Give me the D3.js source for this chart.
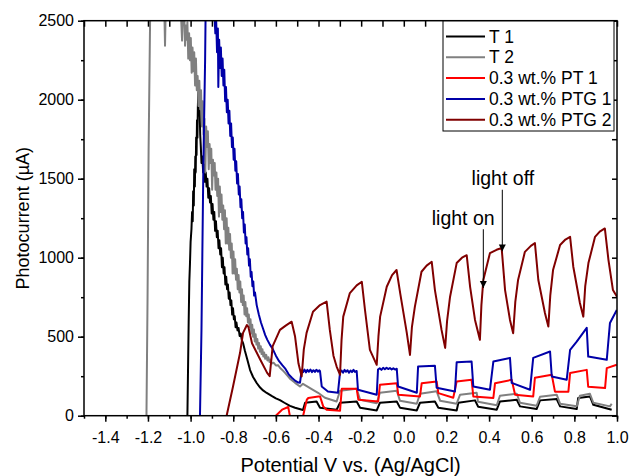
<!DOCTYPE html>
<meta charset="utf-8">
<body style="margin:0;background:#fff">
<script src="https://cdn.jsdelivr.net/npm/d3@7"></script>
<script>

// ---- data (potential V, photocurrent uA) ----
var t1 = [
  [-1.015,0],[-1.012,300],[-1.009,600],[-1.006,850],[-1.003,960],[-1.000,1100],[-0.996,1180],
  [-0.993,1290],[-0.990,1230],[-0.988,1420],[-0.985,1330],[-0.983,1560],[-0.980,1450],[-0.978,1640],
  [-0.976,1540],[-0.974,1760],[-0.972,1650],[-0.970,1870],[-0.968,1760],[-0.966,1950],[-0.964,2045],
  [-0.961,1900],[-0.958,1960],[-0.955,1780],[-0.952,1700],[-0.949,1600],[-0.945,1640],[-0.941,1540],
  [-0.937,1590],[-0.933,1480],[-0.929,1540],[-0.925,1450],[-0.921,1500],[-0.917,1380],[-0.913,1440],
  [-0.909,1350],[-0.905,1390],[-0.901,1280],[-0.897,1340],[-0.893,1240],[-0.889,1290],[-0.885,1170],
  [-0.881,1230],[-0.877,1130],[-0.873,1170],[-0.869,1060],[-0.865,1110],[-0.861,1020],[-0.857,1060],
  [-0.853,940],[-0.849,1000],[-0.845,900],[-0.841,940],[-0.837,830],[-0.833,880],[-0.829,800],
  [-0.825,830],[-0.821,740],[-0.817,780],[-0.813,700],[-0.809,730],[-0.805,640],[-0.801,680],
  [-0.797,610],[-0.793,630],[-0.789,560],[-0.785,590],[-0.780,540],[-0.775,555],[-0.770,505],
  [-0.765,520],[-0.760,480],[-0.754,460],[-0.745,410],[-0.735,360],[-0.721,289],[-0.707,245],
  [-0.690,207],[-0.674,178],[-0.660,160],[-0.643,144],[-0.620,125],[-0.600,110],[-0.581,99],
  [-0.560,82],[-0.534,62],[-0.510,50],[-0.473,36],
  [-0.463,82],[-0.409,90],[-0.393,51],[-0.315,38],[-0.299,82],[-0.221,90],[-0.205,51],[-0.127,33],
  [-0.112,82],[-0.033,90],[-0.018,51],[0.061,33],[0.076,82],[0.146,90],[0.162,51],[0.248,33],
  [0.256,82],[0.334,97],[0.349,57],[0.436,38],[0.451,90],[0.530,101],[0.545,59],[0.623,42],
  [0.639,97],[0.717,105],[0.733,59],[0.811,42],[0.818,112],[0.873,122],[0.889,69],[0.975,38]
];

var t2 = [
  [-1.207,0],[-1.202,732],[-1.197,1679],[-1.190,2500],[-1.186,2700],[-1.125,2700],[-1.120,2342],
  [-1.115,2700],[-1.050,2700],[-1.040,2374],[-1.033,2700],[-1.026,2342],
  [-1.022,2470],[-1.019,2380],[-1.015,2490],[-1.011,2260],[-1.007,2420],[-1.003,2250],[-0.999,2390],
  [-0.995,2170],[-0.991,2330],[-0.987,2180],[-0.983,2300],[-0.979,2090],[-0.975,2260],[-0.971,2060],
  [-0.967,2150],[-0.963,1960],[-0.959,2120],[-0.955,1940],[-0.951,2060],[-0.947,1830],[-0.943,1990],
  [-0.939,1780],[-0.935,1880],[-0.931,1540],[-0.927,1830],[-0.923,1700],[-0.919,1800],[-0.915,1560],
  [-0.911,1720],[-0.907,1600],[-0.903,1690],[-0.899,1430],[-0.895,1620],[-0.891,1520],[-0.887,1600],
  [-0.883,1430],[-0.879,1540],[-0.875,1390],[-0.871,1500],[-0.867,1260],[-0.863,1450],[-0.859,1290],
  [-0.855,1400],[-0.851,1240],[-0.847,1330],[-0.843,1180],[-0.839,1300],[-0.835,1090],[-0.831,1250],
  [-0.827,1090],[-0.823,1190],[-0.819,1050],[-0.815,1150],[-0.811,1000],[-0.807,1090],[-0.803,900],
  [-0.799,1040],[-0.795,900],[-0.791,990],[-0.787,860],[-0.783,930],[-0.779,800],[-0.775,890],
  [-0.771,780],[-0.767,850],[-0.763,720],[-0.759,800],[-0.755,700],[-0.751,760],[-0.747,640],
  [-0.743,720],[-0.739,630],[-0.735,680],[-0.731,590],[-0.727,640],[-0.723,560],[-0.719,610],
  [-0.715,520],[-0.711,575],[-0.707,500],[-0.703,545],[-0.699,470],[-0.695,515],[-0.691,450],
  [-0.687,485],[-0.683,425],[-0.679,460],[-0.675,405],[-0.671,440],[-0.667,390],[-0.663,420],
  [-0.659,375],[-0.655,400],[-0.650,360],[-0.645,385],[-0.640,350],[-0.635,370],[-0.630,340],
  [-0.625,355],[-0.620,330],[-0.610,335],[-0.600,318],[-0.590,320],[-0.580,302],[-0.570,290],
  [-0.557,271],[-0.534,234],[-0.510,208],[-0.487,185],
  [-0.473,202],[-0.426,164],[-0.402,145],[-0.370,114],[-0.315,90],[-0.299,158],[-0.221,170],
  [-0.205,101],[-0.127,79],[-0.112,145],[-0.033,158],[-0.018,95],[0.061,76],[0.076,139],[0.154,155],
  [0.170,95],[0.248,76],[0.264,133],[0.342,145],[0.348,88],[0.436,66],[0.451,126],[0.530,139],
  [0.545,82],[0.623,63],[0.639,120],[0.717,133],[0.733,76],[0.811,60],[0.826,126],[0.873,139],
  [0.889,82],[0.967,59],[0.975,76]
];

var pt1 = [
  [-0.604,-5],[-0.571,38],[-0.542,55],[-0.534,-5],[-0.506,-60],[-0.473,-5],[-0.455,101],[-0.448,112],
  [-0.401,122],[-0.393,122],[-0.378,59],[-0.362,38],[-0.299,32],[-0.291,170],[-0.221,170],[-0.213,101],
  [-0.120,90],[-0.112,196],[-0.033,206],[-0.026,133],[0.076,122],[0.084,206],[0.154,217],[0.162,143],
  [0.232,114],[0.248,217],[0.318,227],[0.326,122],[0.420,112],[0.428,206],[0.506,227],[0.522,133],
  [0.607,122],[0.615,240],[0.694,259],[0.709,152],[0.772,152],[0.780,270],[0.858,290],[0.865,183],
  [0.944,175],[0.952,301],[0.999,322]
];

var ptg1 = [
  [-0.956,0],[-0.949,543],[-0.940,1597],[-0.932,2247],[-0.928,2750],[-0.895,2750],
  [-0.888,2540],[-0.884,2420],[-0.880,2500],[-0.876,2300],[-0.872,2450],[-0.870,2080],[-0.866,2380],
  [-0.862,2200],[-0.858,2330],[-0.854,2150],[-0.850,2260],[-0.846,2090],[-0.842,2190],[-0.838,1990],
  [-0.834,2080],[-0.830,1920],[-0.826,2000],[-0.822,1850],[-0.818,1930],[-0.814,1770],[-0.810,1850],
  [-0.806,1700],[-0.802,1760],[-0.798,1620],[-0.794,1690],[-0.790,1550],[-0.786,1610],[-0.782,1470],
  [-0.778,1530],[-0.774,1400],[-0.770,1450],[-0.766,1320],[-0.762,1370],[-0.758,1250],[-0.754,1290],
  [-0.750,1160],[-0.746,1210],[-0.742,1090],[-0.738,1130],[-0.734,1020],[-0.730,1060],[-0.726,950],
  [-0.722,990],[-0.718,880],[-0.714,910],[-0.710,820],[-0.706,850],[-0.702,760],[-0.698,780],
  [-0.690,700],[-0.680,640],[-0.670,590],[-0.660,550],[-0.650,510],[-0.640,480],[-0.628,450],
  [-0.614,420],[-0.600,380],[-0.585,345],[-0.570,320],[-0.557,300],[-0.540,262],[-0.525,240],
  [-0.510,222],[-0.495,210],[-0.487,208],
  [-0.479,286],[-0.472,276],[-0.466,292],[-0.459,274],[-0.452,290],[-0.445,278],[-0.438,292],
  [-0.431,276],[-0.424,288],[-0.417,277],[-0.410,291],[-0.403,279],[-0.396,287],[-0.393,282],
  [-0.385,185],[-0.356,153],[-0.309,145],
  [-0.299,274],[-0.292,286],[-0.285,272],[-0.278,290],[-0.271,278],[-0.264,288],[-0.257,272],
  [-0.250,286],[-0.243,276],[-0.236,290],[-0.229,277],[-0.221,283],
  [-0.215,164],[-0.127,133],
  [-0.121,292],[-0.113,300],[-0.105,290],[-0.097,303],[-0.089,294],[-0.081,304],[-0.073,295],
  [-0.065,302],[-0.057,293],[-0.049,300],[-0.041,292],[-0.033,297],
  [-0.027,185],[0.061,145],[0.067,311],[0.146,316],
  [0.154,177],[0.240,153],[0.248,338],[0.318,343],[0.326,185],[0.404,164],[0.420,343],[0.498,366],
  [0.506,208],[0.592,164],[0.607,366],[0.686,406],[0.694,248],[0.764,227],[0.780,417],[0.811,469],
  [0.858,556],[0.865,374],[0.952,354],[0.967,587],[0.999,669]
];

var ptg2 = [
  [-0.831,0],[-0.801,185],[-0.768,398],[-0.754,524],[-0.736,574],[-0.729,562],[-0.712,459],
  [-0.673,354],[-0.641,271],[-0.629,250],[-0.615,440],[-0.581,543],[-0.554,570],[-0.526,595],
  [-0.510,501],[-0.494,330],[-0.479,248],[-0.469,420],[-0.456,524],[-0.426,658],[-0.393,700],
  [-0.362,722],[-0.347,543],[-0.330,380],[-0.315,311],[-0.299,259],[-0.292,480],[-0.284,627],
  [-0.253,776],[-0.221,825],[-0.197,848],[-0.182,669],[-0.159,417],[-0.127,322],[-0.119,500],
  [-0.111,627],[-0.080,816],[-0.055,890],[-0.034,922],[-0.017,776],[0.014,524],[0.029,385],
  [0.038,560],[0.052,690],[0.083,911],[0.107,950],[0.131,974],[0.146,795],[0.177,543],[0.194,429],
  [0.203,600],[0.217,753],[0.248,966],[0.273,1000],[0.295,1016],[0.311,816],[0.334,606],[0.357,480],
  [0.364,700],[0.373,859],[0.404,1029],[0.435,1050],[0.459,1061],[0.475,795],[0.498,606],[0.513,522],
  [0.523,720],[0.536,859],[0.568,1037],[0.596,1075],[0.615,1092],[0.631,859],[0.662,650],[0.678,564],
  [0.687,760],[0.700,922],[0.733,1080],[0.758,1115],[0.780,1132],[0.795,943],[0.826,713],[0.842,627],
  [0.851,820],[0.866,966],[0.897,1132],[0.919,1165],[0.943,1185],[0.960,985],[0.981,795],[1.000,753]
];

var seriesNames  = ["T 1", "T 2", "0.3 wt.% PT 1", "0.3 wt.% PTG 1", "0.3 wt.% PTG 2"];
var seriesColors = ["#000000", "#808080", "#ff0000", "#0000a8", "#800000"];
var seriesData   = [t1, t2, pt1, ptg1, ptg2];

var xTicks = [-1.4, -1.2, -1.0, -0.8, -0.6, -0.4, -0.2, 0.0, 0.2, 0.4, 0.6, 0.8, 1.0];
var xMinor = d3.range(-15, 11).map(function(i){ return i / 10; });
var yTicks = [0, 500, 1000, 1500, 2000, 2500];
var yMinor = d3.range(0, 2501, 250);

// annotations: [text, x of text, y of text baseline, arrow x, arrow from y, arrow to y]
var notes = [
  ["light off", 0.318, 1460, 0.462, 1430, 1040],
  ["light on",  0.131, 1207, 0.373, 1180, 808]
];

var width = 630, height = 476;
var font = "'Liberation Sans', Arial, sans-serif";

var x = d3.scaleLinear().domain([-1.5, 1.0]).range([84, 617]);
var y = d3.scaleLinear().domain([0, 2500]).range([415.7, 20.7]);

var svg = d3.select("body").append("svg")
            .attr("width", width)
            .attr("height", height)
            .style("font-family", font);

svg.append("defs").append("clipPath")
   .attr("id", "plotClip")
   .append("rect")
   .attr("x", x(-1.5)).attr("y", y(2500))
   .attr("width", x(1.0) - x(-1.5))
   .attr("height", y(0) - y(2500));

svg.select("defs").append("marker")
   .attr("id", "arrowHead")
   .attr("viewBox", "0 0 10 10")
   .attr("refX", 10).attr("refY", 5)
   .attr("markerWidth", 7).attr("markerHeight", 9)
   .attr("markerUnits", "userSpaceOnUse")
   .attr("orient", "auto")
   .append("path")
   .attr("d", "M0,0 L10,5 L0,10 z")
   .attr("fill", "#000");

// ---- data lines ----
var line = d3.line()
             .x(function(d){ return x(d[0]); })
             .y(function(d){ return y(d[1]); });

svg.append("g")
   .attr("clip-path", "url(#plotClip)")
   .selectAll("path")
   .data(seriesData)
   .enter()
   .append("path")
   .attr("d", line)
   .attr("fill", "none")
   .attr("stroke", function(d, i){ return seriesColors[i]; })
   .attr("stroke-width", 2)
   .attr("stroke-linejoin", "round");

// ---- axes ----
function styleAxis(g) {
  g.select(".domain").remove();
  g.selectAll("line").attr("stroke", "#000").attr("stroke-width", 1.5);
  g.selectAll("text").attr("fill", "#000").style("font-size", "16px").style("font-family", font);
}

svg.append("g")
   .attr("transform", "translate(0," + y(0) + ")")
   .call(d3.axisBottom(x).tickValues(xMinor).tickSize(3).tickFormat(""))
   .call(styleAxis);
svg.append("g")
   .attr("transform", "translate(0," + y(0) + ")")
   .call(d3.axisBottom(x).tickValues(xTicks).tickSize(6).tickPadding(10)
           .tickFormat(function(d){ return d.toFixed(1); }))
   .call(styleAxis);

svg.append("g")
   .attr("transform", "translate(0," + y(2500) + ")")
   .call(d3.axisBottom(x).tickValues(xMinor).tickSize(6).tickFormat(""))
   .call(styleAxis);

svg.append("g")
   .attr("transform", "translate(" + x(-1.5) + ",0)")
   .call(d3.axisLeft(y).tickValues(yMinor).tickSize(3).tickFormat(""))
   .call(styleAxis);
svg.append("g")
   .attr("transform", "translate(" + x(-1.5) + ",0)")
   .call(d3.axisLeft(y).tickValues(yTicks).tickSize(6).tickPadding(4).tickFormat(d3.format("d")))
   .call(styleAxis);

svg.append("g")
   .attr("transform", "translate(" + x(1.0) + ",0)")
   .call(d3.axisLeft(y).tickValues(yMinor).tickSize(5).tickFormat(""))
   .call(styleAxis);

// frame
svg.append("rect")
   .attr("x", x(-1.5)).attr("y", y(2500))
   .attr("width", x(1.0) - x(-1.5))
   .attr("height", y(0) - y(2500))
   .attr("fill", "none")
   .attr("stroke", "#000")
   .attr("stroke-width", 1.5);

// axis titles
svg.append("text")
   .attr("x", (x(-1.5) + x(1.0)) / 2)
   .attr("y", 472)
   .attr("text-anchor", "middle")
   .style("font-size", "20px")
   .text("Potential V vs. (Ag/AgCl)");

svg.append("text")
   .attr("transform", "translate(29," + (y(0) + y(2500)) / 2 + ") rotate(-90)")
   .attr("text-anchor", "middle")
   .style("font-size", "18px")
   .text("Photocurrent (\u00b5A)");

// ---- legend ----
var legend = svg.append("g").attr("transform", "translate(443,21)");
legend.append("rect")
      .attr("width", 171).attr("height", 110)
      .attr("fill", "#fff").attr("stroke", "#000").attr("stroke-width", 1);

var item = legend.selectAll("g.item")
                 .data(seriesNames)
                 .enter()
                 .append("g")
                 .attr("class", "item")
                 .attr("transform", function(d, i){ return "translate(0," + (15.5 + i * 20.8) + ")"; });
item.append("line")
    .attr("x1", 3).attr("x2", 42)
    .attr("stroke", function(d, i){ return seriesColors[i]; })
    .attr("stroke-width", 2);
item.append("text")
    .attr("x", 46).attr("y", 6)
    .style("font-size", "17.5px")
    .text(function(d){ return d; });

// ---- annotations ----
var note = svg.append("g").selectAll("g").data(notes).enter().append("g");
note.append("text")
    .attr("x", function(d){ return x(d[1]); })
    .attr("y", function(d){ return y(d[2]); })
    .style("font-size", "19.5px")
    .text(function(d){ return d[0]; });
note.append("line")
    .attr("x1", function(d){ return x(d[3]); })
    .attr("x2", function(d){ return x(d[3]); })
    .attr("y1", function(d){ return y(d[4]); })
    .attr("y2", function(d){ return y(d[5]); })
    .attr("stroke", "#000")
    .attr("stroke-width", 1)
    .attr("marker-end", "url(#arrowHead)");

</script>
</body>
